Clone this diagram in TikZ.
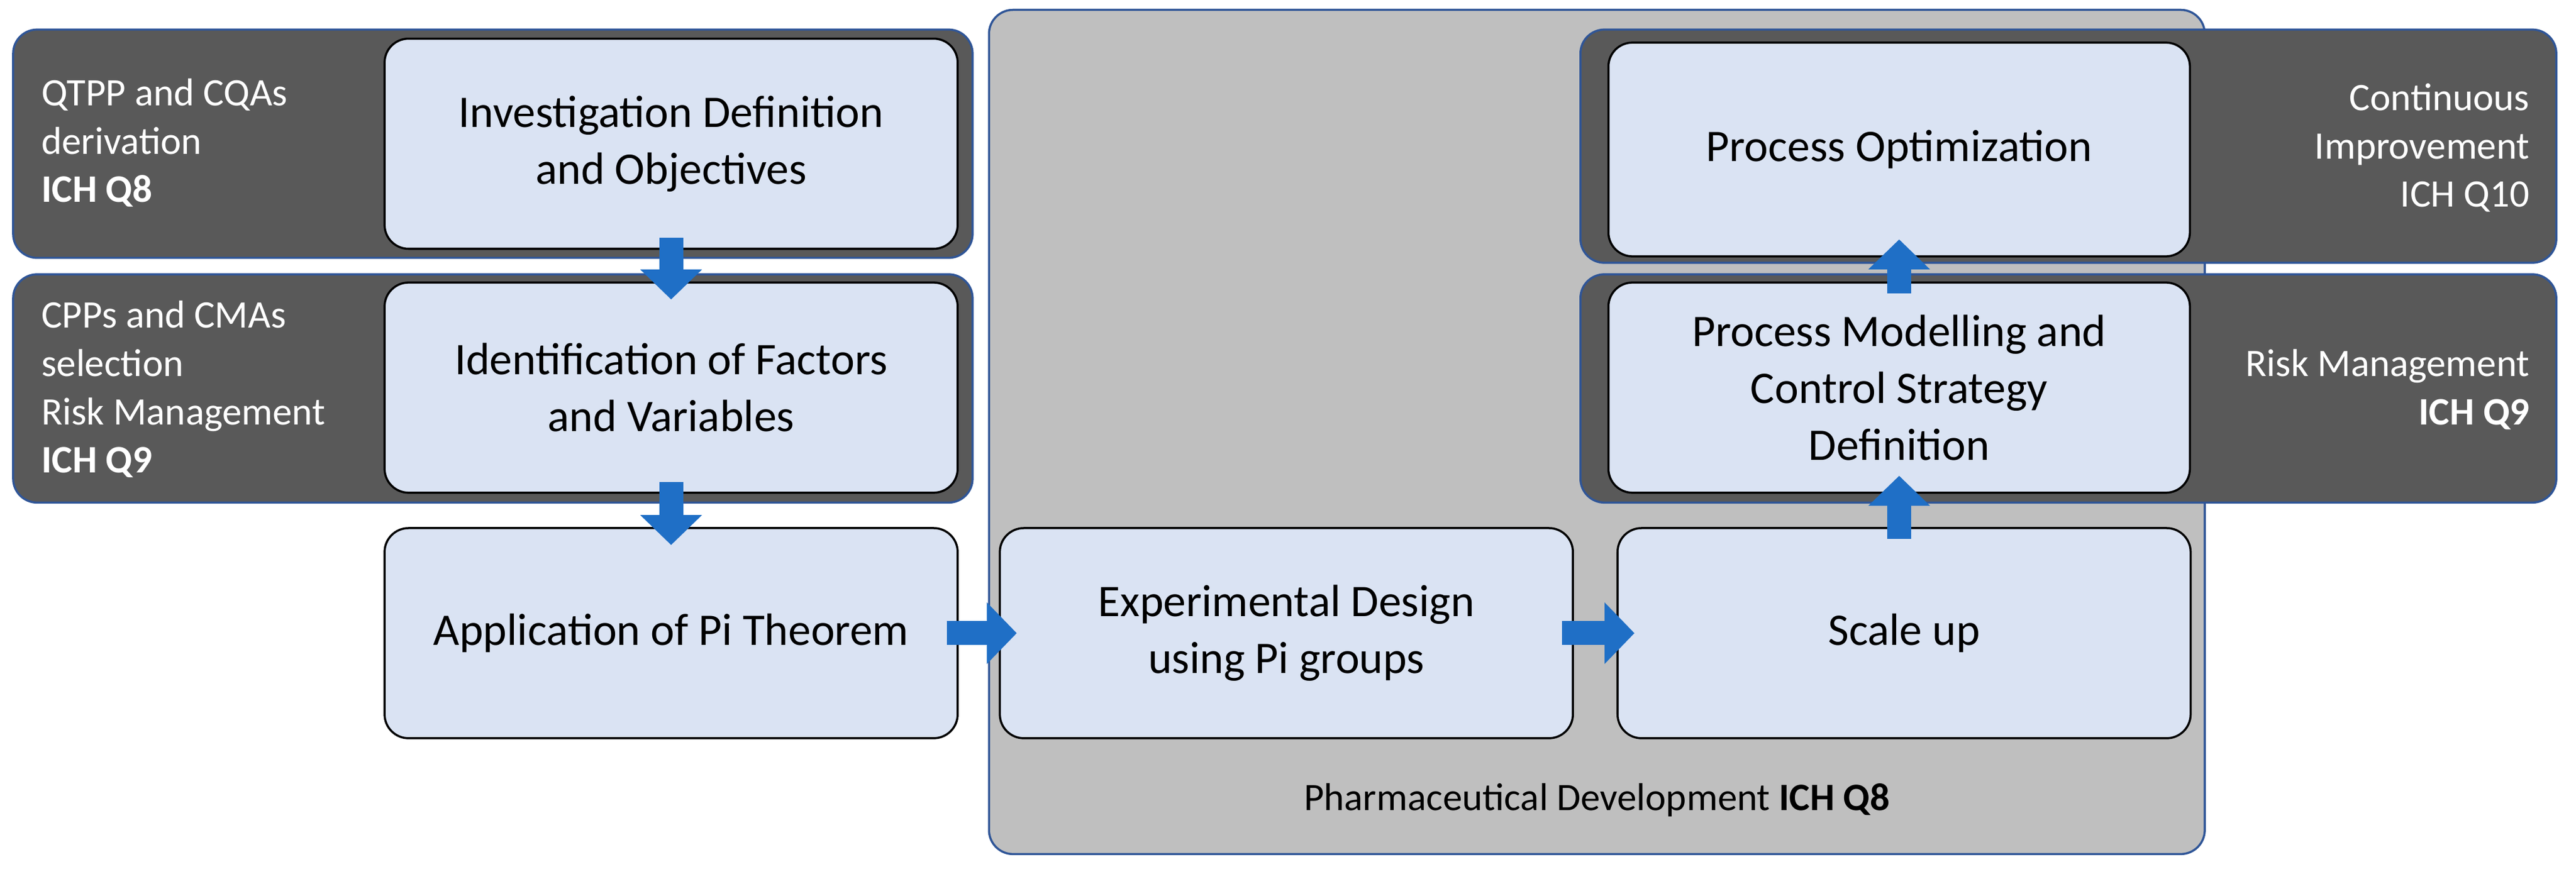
\documentclass[tikz,border=0pt]{standalone}
\usepackage{fontspec}
\setmainfont{Carlito}
\usetikzlibrary{fit,arrows.meta}
\definecolor{bandgray}{HTML}{595959}
\definecolor{biggray}{HTML}{BFBFBF}
\definecolor{lightblue}{HTML}{DAE3F3}
\definecolor{edgeblue}{HTML}{2F5597}
\definecolor{arrowblue}{HTML}{1F6FC6}
\tikzset{
  band/.style={draw=edgeblue,fill=bandgray,rounded corners=4mm,line width=1pt,inner sep=0pt},
  stage/.style={draw=black,fill=lightblue,rounded corners=4mm,line width=1pt,inner sep=0pt,align=center,
    minimum width=9.57cm,minimum height=3.51cm,font=\fontsize{21.5}{27}\selectfont},
  lbl/.style={text=white,font=\fontsize{18.5}{23}\selectfont,inner sep=0pt},
  flow/.style={draw=arrowblue,line width=4mm,-{Triangle[width=10mm,length=5mm]},shorten <=-2mm,shorten >=-3mm}
}
\begin{document}
\begin{tikzpicture}[x=0.02743cm,y=-0.02743cm]
  \useasboundingbox (0,0) rectangle (1568,535);
  % background areas
  \node[band,draw=edgeblue,fill=biggray,fit={(602,6) (1342,520)}] (dev) {};
  \node[band,fit={(8,18) (592,157)}] (b1) {};
  \node[band,fit={(8,167) (592,306)}] (b2) {};
  \node[band,fit={(962,18) (1556,160)}] (b3) {};
  \node[band,fit={(962,167) (1556,306)}] (b4) {};
  % stages
  \node[stage] (inv) at (408.5,87.5) {Investigation Definition\\and Objectives};
  \node[stage] (ident) at (408.5,236) {Identification of Factors\\and Variables};
  \node[stage] (pi) at (408.5,385.5) {Application of Pi Theorem};
  \node[stage] (exp) at (783,385.5) {Experimental Design\\using Pi groups};
  \node[stage] (scale) at (1159,385.5) {Scale up};
  \node[stage,minimum width=9.71cm] (model) at (1156,236) {Process Modelling and\\Control Strategy\\Definition};
  \node[stage,minimum width=9.71cm,minimum height=3.57cm] (opt) at (1156,91) {Process Optimization};
  % labels
  \node[lbl,anchor=west,align=left] (l1) at (25,87) {QTPP and CQAs\\derivation\\\textbf{ICH Q8}};
  \node[lbl,anchor=west,align=left] (l2) at (25,237) {CPPs and CMAs\\selection\\Risk Management\\\textbf{ICH Q9}};
  \node[lbl,anchor=east,align=right] (l3) at (1540,90) {Continuous\\Improvement\\ICH Q10};
  \node[lbl,anchor=east,align=right] (l4) at (1540,237) {Risk Management\\\textbf{ICH Q9}};
  \node[font=\fontsize{18.5}{23}\selectfont,inner sep=0pt] (l5) at (972,487) {Pharmaceutical Development \textbf{ICH Q8}};
  % arrows
  \draw[flow] (inv) -- (ident);
  \draw[flow] (ident) -- (pi);
  \draw[flow] (pi) -- (exp);
  \draw[flow] (exp) -- (scale);
  \draw[flow] (scale.north -| model.south) -- (model);
  \draw[flow] (model) -- (opt);
\end{tikzpicture}
\end{document}
